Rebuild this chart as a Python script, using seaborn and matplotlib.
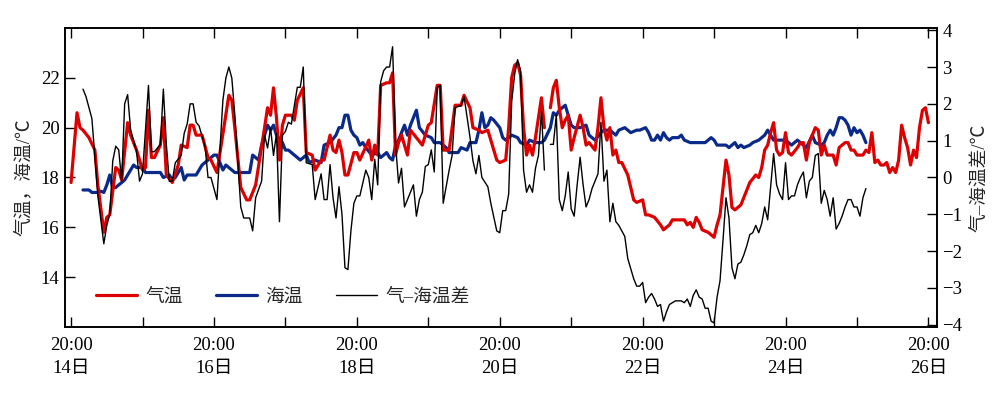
import numpy as np
import pandas as pd
import matplotlib
matplotlib.use('Agg')
import matplotlib.pyplot as plt
import seaborn as sns
from matplotlib.lines import Line2D

# 时间：自14日20:00起的小时数；NaN 表示缺测
air_hours = [0, 2, 3, 4, 6, 8, 9, 11, 12, 13, 15, 16, 17, 19, 20, 22, 24, 25, 26, 27, 28, 30, 31, 32, 34, 36, 37, 39, 40, 41, 42, 44, 46,
             47, 49, 53, 54, 55, 57, 59, 60, 62, 65, 66, 67, 68, 69, 70, 71, 72, 74, 75, 76, 78, 79, 81, 82, 84, 85, 87, 88, 89, 90, 91, 92, 93, 95,
             96, 97, 100, 101, 102, 103, 104, 106, 107, 108, 109, 110, 111, 113, 114, 116, 118, 120, 121, 123, 124, 125, 127, 129, 131, 132, 134, 135, 137, 138, 140, 141, 143,
             144, 146, 147, 148, 149, 150, 151, 152, 153, 154, 155, 156, 158, 159, 160, 161, 162, 163, 164, 165, 166, 167, 168, 169, 171, 172, 173, 174, 176, 177, 178, 179, 180, 181, 182, 183, 184, 185, 187, 189, 190, 192,
             193, 194, 196, 198, 199, 200, 201, 202, 204, 206, 207, 208, 209, 210, 211, 212, 214, 216, 217, 218, 220, 221, 222, 223, 225, 226, 228, 230, 231, 232, 233, 234, 235, 236, 237, 238, 239, 240, 241,
             242, 244, 245, 246, 247, 248, 250, 251, 252, 253, 254, 256, 257, 258, 260, 261, 262, 263, 264, 266, 267, 268, 269, 270, 271, 272, 273, 274, 275, 276, 277, 278, 279, 280, 281, 282, 283, 284, 285, 286, 287, 288]
air_temp = [17.8, 20.6, 20.0, 19.9, 19.6, 19.1, 17.7, 15.8, 16.4, 16.5, 18.4, 18.3, 17.9, 20.2, 19.7, 19.1, 18.3, 18.4, 20.7, 18.8, 18.8, 19.3, 20.4, 18.1, 17.8, 18.5, 19.3, 19.2, 20.1, 20.1, 19.7, 19.7, 18.8,
            18.7, 18.2, 21.3, 21.1, 20.0, 17.6, 17.1, 17.1, 17.7, 20.0, 20.8, 20.5, 21.6, 20.4, 18.7, 20.1, 20.5, 20.5, 20.3, 21.1, 21.6, 19.0, 18.9, 18.3, 18.7, 18.7, 19.7, 19.1, 19.0, 19.5, 19.0, 18.1, 18.1, 19.0,
            19.0, 18.7, 19.5, 18.7, 19.3, 18.9, 21.7, 21.8, 21.8, 22.2, 18.9, 19.4, 19.7, 18.9, 19.9, 19.6, 19.3, 20.1, 20.2, 21.7, 21.7, 19.1, 19.1, 20.9, 20.9, 21.3, 20.8, 20.0, 19.9, 19.8, 19.9, 19.5, 18.7,
            18.6, 18.7, 20.0, 22.0, 22.5, 22.6, 22.1, 20.0, 18.9, 19.3, 18.9, 19.6, 21.2, 20.0, np.nan, 20.8, 21.6, 21.9, 20.8, 20.0, 20.3, 20.5, 19.1, 19.6, 20.5, 20.0, 19.3, 19.4, 19.1, 20.0, 21.2, 20.0, 19.5, 20.0, 18.9, 19.1, 18.6, 18.6, 18.1, 17.1, 17.0, 17.1,
            16.5, 16.5, 16.4, 16.1, 15.9, 16.0, 16.1, 16.3, 16.3, 16.3, 16.1, 16.2, 16.0, 16.4, 16.2, 15.9, 15.8, 15.6, 16.1, 16.5, 18.7, 18.1, 16.8, 16.7, 16.9, 17.2, 17.8, 18.1, 18.0, 18.4, 19.1, 19.3, 19.8, 20.2, 19.1, 18.9, 19.0, 19.8, 19.0,
            18.9, 19.2, 19.4, 19.4, 18.7, 19.4, 20.0, 19.9, 18.9, 19.3, 18.9, 18.9, 18.5, 19.2, 19.4, 19.4, 19.1, 19.1, 18.9, 18.9, 19.1, 19.0, 19.8, 18.6, 18.7, 18.5, 18.5, 18.6, 18.2, 18.4, 18.2, 18.7, 20.1, 19.6, 19.2, 18.5, 19.1, 18.8, 20.0, 20.7, 20.8, 20.2]

sea_hours = [4, 6, 7, 9, 10, 11, 12, 13, 14, 15, 16, 18, 19, 21, 22, 24, 25, 27, 29, 30, 31, 33, 34, 35, 37, 38, 39, 42, 43, 44, 46,
             48, 49, 51, 52, 53, 55, 57, 60, 61, 63, 64, 66, 67, 68, 69, 71, 72, 73, 75, 76, 77, 79, 80, 82, 84, 85, 87, 89, 90, 91, 92, 93, 94, 95,
             96, 97, 98, 99, 101, 103, 104, 106, 107, 108, 109, 110, 112, 113, 114, 116, 117, 119, 121, 122, 124, 126, 127, 130, 131, 133, 134, 136, 137, 138, 139, 140, 141, 142,
             144, 145, 146, 148, 150, 151, 153, 154, 156, 158, 159, 161, 162, 163, 164, 166, 168, 169, 171, 173, 174, 176, 178, 179, 181, 183, 184, 186, 188, 190, 191,
             193, 194, 195, 196, 197, 198, 199, 200, 201, 202, 204, 205, 206, 208, 210, 213, 215, 216, 217, 219, 220, 221, 223, 224, 225, 226, 228, 229, 231, 232, 233, 234, 235, 236, 239, 240,
             242, 244, 246, 247, 249, 250, 252, 253, 254, 255, 256, 257, 258, 259, 260, 261, 262, 263, 264, 265, 266, 267]
sea_temp = [17.5, 17.5, 17.4, 17.4, 17.45, 17.4, 17.7, 18.1, 17.6, 17.6, 17.7, 17.9, 18.1, 18.5, 18.4, 18.4, 18.2, 18.2, 18.2, 18.2, 18.0, 18.1, 17.9, 18.0, 18.4, 17.9, 18.1, 18.1, 18.3, 18.5, 18.7,
            18.9, 18.9, 18.3, 18.5, 18.4, 18.2, 18.2, 18.2, 18.9, 18.7, 19.3, 20.1, 19.9, 20.1, 19.7, 19.4, 19.1, 19.1, 18.9, 18.8, 18.7, 18.9, 18.6, 18.7, 18.6, 19.3, 19.4, 19.7, 20.0, 20.0, 20.5, 20.5, 19.9, 19.7,
            19.6, 19.3, 19.4, 19.2, 18.9, 19.0, 18.8, 19.0, 18.8, 18.7, 19.3, 19.5, 20.1, 19.7, 20.1, 20.7, 20.0, 19.7, 19.6, 19.4, 19.4, 19.2, 19.0, 19.0, 19.2, 19.1, 19.4, 19.4, 19.9, 20.6, 20.0, 20.1, 20.4, 20.3,
            20.0, 19.6, 19.5, 19.7, 19.6, 19.4, 19.3, 19.5, 19.4, 19.4, 19.5, 20.0, 20.6, 20.5, 20.7, 20.9, 20.1, 20.0, 20.0, 20.1, 19.7, 19.5, 19.8, 19.9, 19.9, 19.7, 19.9, 20.0, 19.8, 19.9, 19.9,
            20.0, 19.8, 19.5, 19.5, 19.7, 19.5, 19.8, 19.6, 19.5, 19.6, 19.6, 19.7, 19.5, 19.4, 19.4, 19.4, 19.6, 19.5, 19.3, 19.3, 19.3, 19.2, 19.4, 19.2, 19.3, 19.2, 19.3, 19.4, 19.5, 19.6, 19.7, 19.9, 19.7, 19.5, 19.5, 19.5,
            19.3, 19.5, 19.3, 19.2, 19.7, 19.4, 19.3, 19.4, 19.7, 19.9, 19.7, 20.0, 20.4, 20.4, 20.3, 20.1, 19.7, 20.0, 19.8, 19.9, 19.7, 19.4]

diff_hours = [4, 5, 7, 9, 11, 12, 13, 14, 15, 16, 17, 18, 19, 20, 22, 23, 24, 26, 27, 28, 30, 31, 32, 33, 34, 35, 37, 38, 39, 40, 41, 42, 43, 45, 46, 47,
              49, 51, 52, 53, 54, 55, 57, 58, 60, 61, 62, 64, 65, 66, 67, 68, 69, 70, 71, 72, 73, 74, 76, 77, 78, 79, 81, 82, 83, 84, 85, 86, 87, 88, 89, 90, 91, 92, 93, 94, 95,
              96, 97, 99, 100, 101, 102, 103, 104, 105, 106, 107, 108, 109, 110, 111, 112, 113, 115, 116, 117, 118, 119, 120, 121, 122, 123, 124, 125, 127, 128, 129, 131, 132, 134, 135, 136, 137, 138, 140, 141, 143, 144,
              145, 146, 147, 148, 149, 150, 151, 152, 153, 154, 155, 156, 157, 158, 159, 160, 161, 162, 163, 164, 165, 166, 167, 168, 169, 170, 171, 172, 173, 174, 175, 177, 178, 179, 180, 181, 182, 183, 184, 186, 187, 189, 190, 191, 192, 193, 194,
              195, 196, 197, 198, 199, 200, 201, 203, 205, 206, 207, 208, 209, 210, 211, 212, 213, 214, 215, 216, 217, 218, 219, 220, 221, 222, 223, 224, 225, 226, 227, 228, 229, 230, 231, 232, 233, 234, 235, 236, 237, 238, 239, 240, 241,
              242, 243, 244, 245, 246, 247, 248, 249, 250, 251, 252, 253, 254, 255, 256, 257, 258, 259, 260, 261, 262, 263, 264, 265, 266, 267]
diff_vals = [2.4, 2.2, 1.6, -0.5, -1.8, -1.3, -1.0, 0.45, 0.85, 0.75, -0.1, 2.0, 2.25, 1.3, 0.7, -0.1, 0.1, 2.5, 0.7, 0.7, 0.9, 2.4, 0.9, -0.1, -0.1, 0.4, 0.6, 1.2, 1.45, 2.0, 2.0, 1.5, 1.4, 0.85, 0.0, 0.0,
             -0.6, 2.1, 2.7, 3.0, 2.7, 1.7, -0.8, -1.1, -1.1, -1.45, -0.55, -0.1, 1.15, 0.8, 1.35, 0.6, 1.2, -1.2, 1.15, 1.25, 1.5, 1.45, 2.45, 2.45, 3.0, 0.4, 0.35, -0.6, -0.25, 0.1, -0.6, -0.6, 0.35, -0.55, -1.1, -0.25, -1.0, -2.45, -2.5, -1.45, -0.7,
             -0.5, -0.5, 0.2, 0.0, -0.6, 0.5, -0.2, 2.6, 2.9, 3.0, 3.0, 3.55, 0.9, -0.15, 0.25, -0.8, -0.6, -0.2, -1.05, -0.6, -0.4, 0.3, 0.35, 0.75, 0.15, 2.45, 2.5, -0.7, 0.2, 0.6, 1.9, 1.95, 2.2, 1.1, 0.45, 0.1, 0.6, 0.0, -0.25, -0.7, -1.45, -1.5,
             -0.9, -0.9, -0.45, 2.05, 2.8, 3.2, 2.9, 0.2, -0.4, -0.2, -0.4, 0.25, 0.6, 1.8, 0.2, np.nan, 0.9, 0.9, 1.7, -0.6, -0.9, -0.5, 0.15, -0.85, -1.05, -0.2, 0.55, -0.2, -0.8, -0.6, -0.3, 0.1, 1.5, -0.1, 0.2, -1.2, -0.7, -1.2, -1.3, -1.6, -2.2, -2.75, -2.95, -2.95, -2.85, -3.4, -3.25,
             -3.15, -3.3, -3.5, -3.45, -3.9, -3.65, -3.45, -3.35, -3.35, -3.4, -3.3, -3.5, -3.2, -3.05, -3.25, -3.3, -3.55, -3.55, -3.9, -3.95, -3.25, -2.8, -1.7, -0.55, -1.1, -2.45, -2.75, -2.35, -2.3, -2.1, -1.85, -1.55, -1.5, -1.3, -1.5, -1.25, -0.8, -1.15, -0.25, 0.65, -0.2, -0.45, -0.6, 0.4, -0.6,
             -0.5, -0.5, -0.2, 0.0, 0.15, -0.55, -0.1, 0.0, 0.6, 0.65, -0.7, -0.35, -0.6, -1.05, -0.55, -1.4, -1.25, -1.05, -0.8, -0.6, -0.6, -0.8, -0.8, -1.05, -0.55, -0.3]

day_ticks = list(range(13))
tick_labels = [f'20:00\n{14 + d}日' if d % 2 == 0 else '' for d in day_ticks]

sns.set_theme(style='ticks')
plt.rcParams['font.family'] = ['Liberation Serif', 'Noto Sans CJK SC']
plt.rcParams['axes.unicode_minus'] = True

FS = 13.5


def to_frame(hours, vals):
    df = pd.DataFrame({'day': np.array(hours) / 24.0, 'val': vals})
    df['seg'] = df['val'].isna().cumsum()
    return df.dropna()


air_df = to_frame(air_hours, air_temp)
sea_df = to_frame(sea_hours, sea_temp)
diff_df = to_frame(diff_hours, diff_vals)

red = '#dd0000'
blue = '#0a2a8a'

fig = plt.figure(figsize=(10, 3.97), dpi=100)
ax = fig.add_axes([0.065, 0.1763, 0.872, 0.7532])
ax2 = ax.twinx()

sns.lineplot(data=sea_df, x='day', y='val', units='seg', estimator=None, color=blue, lw=2.3, ax=ax, legend=False)
sns.lineplot(data=air_df, x='day', y='val', units='seg', estimator=None, color=red, lw=2.3, ax=ax, legend=False)
sns.lineplot(data=diff_df, x='day', y='val', units='seg', estimator=None, color='black', lw=1.0, ax=ax2, legend=False)

ax.set_xlim(-0.085, 12.12)
ax.set_ylim(12, 24)
ax2.set_ylim(-4.06, 4.06)

ax.set_xticks(day_ticks)
ax.set_xticklabels(tick_labels)
for lab in ax.get_xticklabels():
    lab.set_linespacing(1.45)
ax.set_yticks([14, 16, 18, 20, 22])
ax2.set_yticks(range(-4, 5))

ax.tick_params(axis='x', direction='in', top=True, length=7, width=1, pad=7, labelsize=FS, colors='black')
ax.tick_params(axis='y', direction='in', length=7, width=1, pad=4, labelsize=FS, colors='black')
ax2.tick_params(axis='y', direction='in', length=7, width=1, pad=4, labelsize=FS, colors='black')

ax.set_xlabel('')
ax.set_ylabel('气温，海温/℃', fontsize=FS, labelpad=6)
ax2.set_ylabel('气–海温差/℃', fontsize=FS, labelpad=6)

for a in (ax, ax2):
    for s in a.spines.values():
        s.set_visible(True)
        s.set_color('black')
        s.set_linewidth(1.2)

handles = [Line2D([], [], color=red, lw=2.3),
           Line2D([], [], color=blue, lw=2.3),
           Line2D([], [], color='black', lw=1.0)]
ax2.legend(handles, ['气温', '海温', '气–海温差'], loc='lower left', bbox_to_anchor=(0.016, 0.015),
           ncol=3, frameon=False, fontsize=FS, handlelength=2.2, handletextpad=0.45, columnspacing=1.75)

fig.savefig('out.png', dpi=100)
